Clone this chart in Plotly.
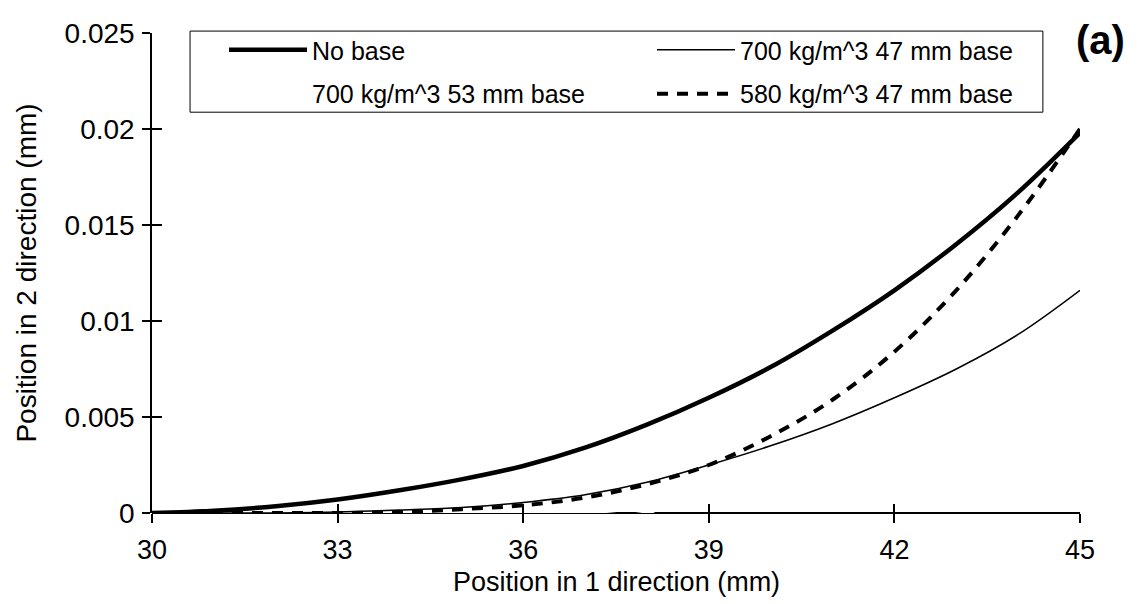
import plotly.graph_objects as go

# ---- data ----
x_mm = [30, 31, 32, 33, 34, 35, 36, 37, 38, 39, 40, 41, 42, 43, 44, 45]
no_base = [0.0, 0.00012, 0.00035, 0.0007, 0.00118, 0.00175, 0.00245, 0.0034, 0.0046,
           0.0060, 0.0076, 0.0095, 0.0116, 0.0140, 0.0167, 0.0198]
kg700_47 = [0.0, 0.0, 0.0, 0.00005, 0.00015, 0.00028, 0.00055, 0.00095, 0.0016,
            0.0025, 0.0035, 0.00465, 0.0060, 0.0075, 0.0093, 0.0116]
kg700_53 = [0.0, 0.0, 0.0, 0.0, 0.0, 0.0, 0.0, 0.0, 0.0,
            0.0025, 0.0035, 0.00465, 0.0060, 0.0075, 0.0093, 0.0116]
kg580_47 = [0.0, 0.0, 0.0, 0.0, 0.00005, 0.0002, 0.0004, 0.0008, 0.0015,
            0.0025, 0.0040, 0.0059, 0.0084, 0.0116, 0.0155, 0.0200]

series_names = ["No base", "700 kg/m^3 47 mm base", "700 kg/m^3 53 mm base",
                "580 kg/m^3 47 mm base"]
x_ticks = [30, 33, 36, 39, 42, 45]
y_ticks = [0, 0.005, 0.01, 0.015, 0.02, 0.025]
y_tick_text = ["0", "0.005", "0.01", "0.015", "0.02", "0.025"]
x_title = "Position in 1 direction (mm)"
y_title = "Position in 2 direction (mm)"
panel_label = "(a)"

FONT = "Liberation Sans, Arial, Helvetica, sans-serif"

fig = go.Figure()
# invisible (white) series drawn first, beneath the others
fig.add_trace(go.Scatter(x=x_mm, y=kg700_53, name=series_names[2], mode="lines",
                         line=dict(color="white", width=5, shape="spline"),
                         legend="legend3", hoverinfo="skip"))
fig.add_trace(go.Scatter(x=x_mm, y=kg700_47, name=series_names[1], mode="lines",
                         line=dict(color="black", width=1.5, shape="spline"),
                         legend="legend2"))
fig.add_trace(go.Scatter(x=x_mm, y=kg580_47, name=series_names[3], mode="lines",
                         line=dict(color="black", width=4, shape="spline",
                                   dash="11px,9px"),
                         legend="legend4"))
fig.add_trace(go.Scatter(x=x_mm, y=no_base, name=series_names[0], mode="lines",
                         line=dict(color="black", width=4.5, shape="spline"),
                         legend="legend"))
# transparent helper traces so the overlay tick axes get drawn
fig.add_trace(go.Scatter(x=x_mm, y=no_base, xaxis="x2", yaxis="y", mode="lines",
                         line=dict(width=0, color="rgba(0,0,0,0)"),
                         showlegend=False, hoverinfo="skip"))
fig.add_trace(go.Scatter(x=x_mm, y=no_base, xaxis="x", yaxis="y2", mode="lines",
                         line=dict(width=0, color="rgba(0,0,0,0)"),
                         showlegend=False, hoverinfo="skip"))

legend_common = dict(orientation="v", xanchor="left", yanchor="top",
                     bgcolor="rgba(0,0,0,0)", borderwidth=0,
                     font=dict(size=25, family=FONT, color="black"),
                     itemwidth=78)

col1_x, col2_x = 0.0776, 0.5388
row1_y, row2_y = 1.0125, 0.921

fig.update_layout(
    width=1144, height=604,
    margin=dict(l=152, r=64, t=33, b=91, autoexpand=False),
    paper_bgcolor="white", plot_bgcolor="white",
    font=dict(family=FONT, color="black", size=28),
    showlegend=True,
    legend=dict(x=col1_x, y=row1_y, **legend_common),
    legend2=dict(x=col2_x, y=row1_y, **legend_common),
    legend3=dict(x=col1_x, y=row2_y, **legend_common),
    legend4=dict(x=col2_x, y=row2_y, **legend_common),
    xaxis=dict(range=[30, 45], tickvals=x_ticks, ticks="outside", ticklen=9,
               tickwidth=1.5, tickcolor="black", showline=False, showgrid=False,
               zeroline=False, tickfont=dict(size=27), ticklabelstandoff=4),
    yaxis=dict(range=[0, 0.025], tickvals=y_ticks, ticktext=y_tick_text,
               ticks="outside", ticklen=8, tickwidth=1.5, tickcolor="black",
               showline=True, linewidth=1.5, linecolor="black", showgrid=False,
               zeroline=True, zerolinecolor="black", zerolinewidth=1.5,
               tickfont=dict(size=28), ticklabelstandoff=2,
               title=dict(text=y_title, font=dict(size=28), standoff=20)),
    xaxis2=dict(overlaying="x", anchor="y", range=[30, 45], tickvals=x_ticks,
                ticks="inside", ticklen=9, tickwidth=1.5, tickcolor="black",
                showticklabels=False, showline=False, showgrid=False, zeroline=False),
    yaxis2=dict(overlaying="y", anchor="x", side="left", range=[0, 0.025],
                tickvals=y_ticks, ticks="inside", ticklen=10, tickwidth=1.5,
                tickcolor="black", showticklabels=False, showline=False,
                showgrid=False, zeroline=False),
    shapes=[dict(type="rect", xref="paper", yref="paper",
                 x0=0.041, x1=0.960, y0=0.835, y1=1.004,
                 line=dict(color="black", width=1))],
    annotations=[
        dict(text="<b>" + panel_label + "</b>", xref="paper", yref="paper",
             x=1.0226, y=0.985, xanchor="center", yanchor="middle",
             showarrow=False, font=dict(size=40, family=FONT)),
        dict(text=x_title, xref="paper", yref="paper", x=0.5, y=-0.1438,
             xanchor="center", yanchor="middle", showarrow=False,
             font=dict(size=27, family=FONT)),
    ],
)

fig.write_html("out.html", config={"displayModeBar": False},
               post_script="document.body.style.margin='0px';")
